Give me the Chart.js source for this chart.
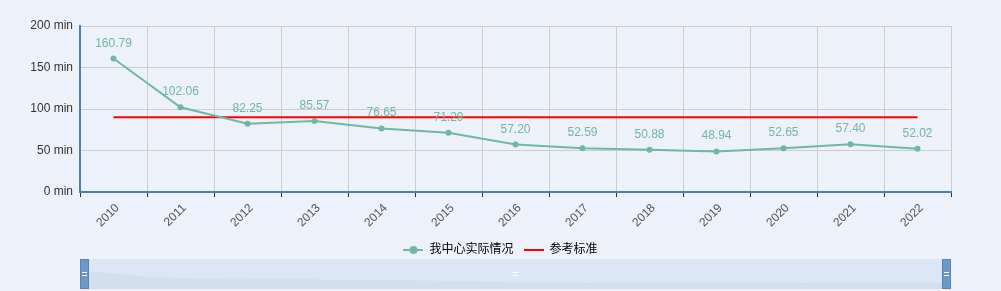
<!DOCTYPE html>
<html>
<head>
<meta charset="utf-8">
<script src="https://cdn.jsdelivr.net/npm/chart.js@4.4.1/dist/chart.umd.min.js"></script>
<style>
  html, body { margin: 0; padding: 0; background: #edf1fa; }
  #wrap { width: 1001px; height: 291px; }
</style>
</head>
<body>
<div id="wrap"><canvas id="lineChart"></canvas></div>
<script>
const years = ["2010", "2011", "2012", "2013", "2014", "2015", "2016", "2017", "2018", "2019", "2020", "2021", "2022"];
const actual = [160.79, 102.06, 82.25, 85.57, 76.65, 71.29, 57.20, 52.59, 50.88, 48.94, 52.65, 57.40, 52.02];
const standard = [90, 90, 90, 90, 90, 90, 90, 90, 90, 90, 90, 90, 90];
const yTicks = [0, 50, 100, 150, 200];

const teal = "#70b7a5";
const fontFamily = "'Liberation Sans', Arial, 'Noto Sans CJK SC', sans-serif";

// legend icon for the line series: short line with a dot
const lineIcon = document.createElement("canvas");
lineIcon.width = 20;
lineIcon.height = 10;
(function () {
  const c = lineIcon.getContext("2d");
  c.strokeStyle = teal;
  c.lineWidth = 2;
  c.beginPath();
  c.moveTo(0, 5);
  c.lineTo(20, 5);
  c.stroke();
  c.fillStyle = teal;
  c.beginPath();
  c.arc(10, 5, 4, 0, Math.PI * 2);
  c.fill();
})();
const redIcon = document.createElement("canvas");
redIcon.width = 20;
redIcon.height = 10;
(function () {
  const c = redIcon.getContext("2d");
  c.fillStyle = "#ff0000";
  c.fillRect(0, 4, 20, 2);
})();

const bgPlugin = {
  id: "bg",
  beforeDraw(chart) {
    const c = chart.ctx;
    c.save();
    c.fillStyle = "#edf1fa";
    c.fillRect(0, 0, chart.width, chart.height);
    c.restore();
  },
};

// center the legend on the whole canvas, not on the padded box
const legendShift = {
  id: "legendShift",
  afterLayout(chart) {
    const lg = chart.legend;
    if (!lg) return;
    const shift = (chart.width - (lg.left + lg.right)) / 2;
    lg.left += shift;
    lg.right += shift;
  },
};

const valueLabels = {
  id: "valueLabels",
  afterDatasetsDraw(chart) {
    const c = chart.ctx;
    const meta = chart.getDatasetMeta(0);
    c.save();
    c.font = "12px " + fontFamily;
    c.fillStyle = teal;
    c.textAlign = "center";
    c.textBaseline = "alphabetic";
    meta.data.forEach((pt, i) => {
      c.fillText(actual[i].toFixed(2), pt.x, pt.y - 12);
    });
    c.restore();
  },
};

// data zoom slider under the legend
const sliderPlugin = {
  id: "slider",
  afterDraw(chart) {
    const c = chart.ctx;
    const area = chart.chartArea;
    const left = area.left, right = area.right;
    const top = 259, bottom = 289;
    c.save();
    c.fillStyle = "#dbe6f6";
    c.fillRect(left, top, right - left, bottom - top);

    // data shadow
    const maxV = 260;
    c.fillStyle = "rgba(200, 210, 220, 0.35)";
    c.beginPath();
    c.moveTo(left, bottom);
    actual.forEach((v, i) => {
      const x = left + (i / (actual.length - 1)) * (right - left);
      const y = bottom - (v / maxV) * (bottom - top);
      c.lineTo(x, y);
    });
    c.lineTo(right, bottom);
    c.closePath();
    c.fill();

    // handles
    [left, right - 9].forEach((hx) => {
      c.fillStyle = "#6a9bc7";
      c.fillRect(hx, top, 9, bottom - top);
      c.strokeStyle = "#5585b5";
      c.lineWidth = 1;
      c.strokeRect(hx + 0.5, top + 0.5, 8, bottom - top - 1);
      c.fillStyle = "#ffffff";
      c.fillRect(hx + 2, top + 13, 5, 1);
      c.fillRect(hx + 2, top + 16, 5, 1);
    });
    const mx = (left + right) / 2;
    c.fillStyle = "#ffffff";
    c.fillRect(mx - 3, top + 13, 6, 1);
    c.fillRect(mx - 3, top + 16, 6, 1);
    c.restore();
  },
};

new Chart(document.getElementById("lineChart"), {
  type: "line",
  data: {
    labels: years,
    datasets: [
      {
        label: "我中心实际情况",
        data: actual,
        borderColor: teal,
        backgroundColor: teal,
        borderWidth: 2,
        pointRadius: 3,
        pointHoverRadius: 4,
        pointBackgroundColor: teal,
        pointBorderWidth: 0,
        tension: 0,
      },
      {
        label: "参考标准",
        data: standard,
        borderColor: "#ff0000",
        backgroundColor: "#ff0000",
        borderWidth: 2,
        pointRadius: 0,
        tension: 0,
      },
    ],
  },
  options: {
    responsive: true,
    maintainAspectRatio: false,
    animation: false,
    layout: {
      padding: { top: 26, right: 50, bottom: 25, left: 0 },
    },
    scales: {
      x: {
        offset: true,
        grid: {
          offset: true,
          color: "#cccccc",
          tickColor: "#333333",
          tickLength: 5,
        },
        border: { color: "#4682b4", width: 2 },
        ticks: {
          minRotation: 45,
          maxRotation: 45,
          color: "#555555",
          labelOffset: 4,
          font: { size: 12, family: fontFamily },
          padding: 4,
        },
        afterFit(scale) {
          scale.height = 42;
        },
      },
      y: {
        min: 0,
        max: 200,
        afterBuildTicks(scale) {
          scale.ticks = yTicks.map((v) => ({ value: v }));
        },
        grid: { color: "#cccccc", drawTicks: false },
        border: { color: "#4682b4", width: 2 },
        ticks: {
          color: "#333333",
          padding: 7,
          font: { size: 12, family: fontFamily },
          callback: function (value) {
            return value + " min";
          },
        },
        afterFit(scale) {
          scale.width = 80;
        },
      },
    },
    plugins: {
      legend: {
        position: "bottom",
        labels: {
          usePointStyle: true,
          pointStyleWidth: 20,
          padding: 10,
          color: "#333333",
          font: { size: 12, family: fontFamily },
          generateLabels: function (chart) {
            return chart.data.datasets.map((ds, i) => ({
              text: ds.label,
              pointStyle: i === 0 ? lineIcon : redIcon,
              fillStyle: ds.borderColor,
              strokeStyle: ds.borderColor,
              lineWidth: 0,
              hidden: false,
              datasetIndex: i,
            }));
          },
        },
      },
      tooltip: { enabled: true },
    },
  },
  plugins: [bgPlugin, legendShift, valueLabels, sliderPlugin],
});
</script>
</body>
</html>
